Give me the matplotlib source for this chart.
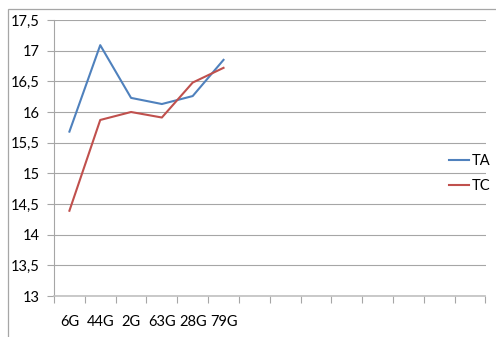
import matplotlib
matplotlib.use("Agg")
import matplotlib.pyplot as plt
from matplotlib.patches import Rectangle

categories = ["6G", "44G", "2G", "63G", "28G", "79G"]
ta_values = [15.68, 17.09, 16.23, 16.13, 16.26, 16.85]
tc_values = [14.39, 15.87, 16.00, 15.91, 16.48, 16.72]
n_slots = 14
y_ticks = [13, 13.5, 14, 14.5, 15, 15.5, 16, 16.5, 17, 17.5]

plt.rcParams['font.family'] = ['Lato', 'DejaVu Sans']

W, H = 496, 337
fig = plt.figure(figsize=(W / 100, H / 100), dpi=100)
fig.patch.set_facecolor("white")

# outer chart frame
fig.patches.append(Rectangle((8 / W, -0.2), 1.2, 1.2 - 9 / H + 0.0,
                             transform=fig.transFigure, fill=False,
                             edgecolor="#a6a6a6", linewidth=0.9))

ax = fig.add_axes([54 / W, 1 - 296 / H, (485.5 - 54) / W, (296 - 20) / H])
ax.set_facecolor("none")

x = list(range(len(categories)))
ax.plot(x, ta_values, color="#4F81BD", linewidth=1.5, label="TA")
ax.plot(x, tc_values, color="#C0504D", linewidth=1.5, label="TC")

ax.set_xlim(-0.5, n_slots - 0.5)
ax.set_ylim(13, 17.5)

ax.set_yticks(y_ticks)
ax.set_yticklabels([f"{v:g}".replace(".", ",") for v in y_ticks], fontsize=10.5)
ax.yaxis.grid(True, color="#a6a6a6", linewidth=0.8)
ax.set_axisbelow(True)

ax.set_xticks(x)
ax.set_xticklabels(categories, fontsize=10.5)
ax.set_xticks([i - 0.5 for i in range(n_slots + 1)], minor=True)
ax.tick_params(axis="x", which="major", length=0, pad=14)
ax.tick_params(axis="x", which="minor", length=5, color="#a6a6a6", width=0.8)
ax.tick_params(axis="y", length=5, color="#a6a6a6", width=0.8, pad=5)

for s in ["top", "right"]:
    ax.spines[s].set_visible(False)
ax.spines["left"].set_color("#a6a6a6")
ax.spines["left"].set_linewidth(0.8)
ax.spines["bottom"].set_color("#c0c0c0")
ax.spines["bottom"].set_linewidth(1.2)

leg = fig.legend(loc="center left", bbox_to_anchor=(449 / W, 1 - 173.5 / H),
                 frameon=False, fontsize=10.5, handlelength=1.4,
                 handletextpad=0.15, labelspacing=0.75, borderpad=0,
                 borderaxespad=0)

fig.savefig("out.png", dpi=100)
